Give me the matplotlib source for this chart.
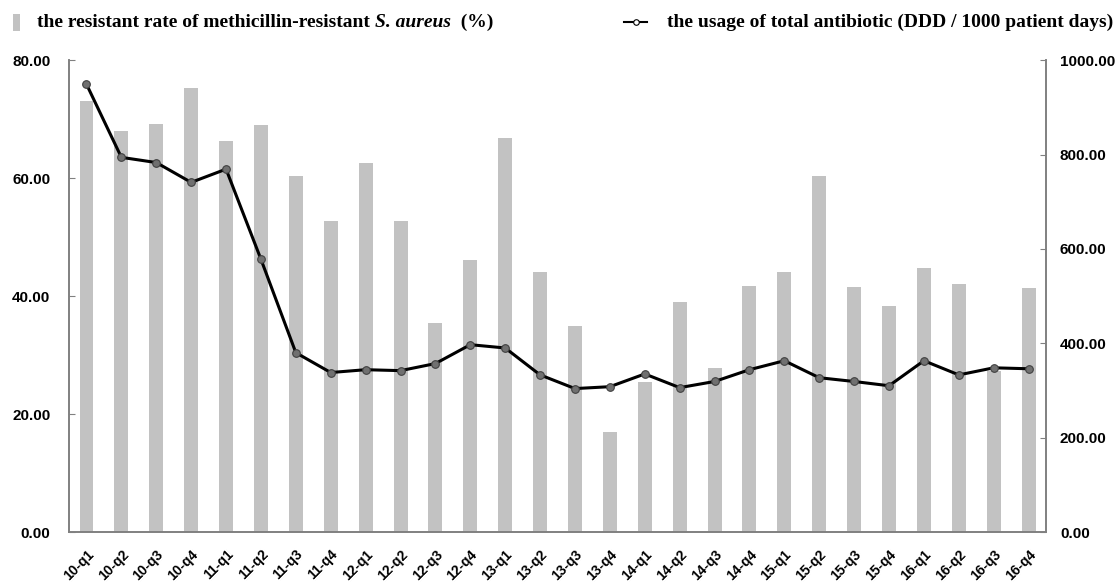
import numpy as np
import matplotlib
matplotlib.use('Agg')
import matplotlib.pyplot as plt
from matplotlib.lines import Line2D

quarters = ['10-q1', '10-q2', '10-q3', '10-q4', '11-q1', '11-q2', '11-q3', '11-q4',
            '12-q1', '12-q2', '12-q3', '12-q4', '13-q1', '13-q2', '13-q3', '13-q4',
            '14-q1', '14-q2', '14-q3', '14-q4', '15-q1', '15-q2', '15-q3', '15-q4',
            '16-q1', '16-q2', '16-q3', '16-q4']
mrsa_rate = [73.1, 68.0, 69.1, 75.3, 66.3, 69.0, 60.3, 52.8,
             62.6, 52.7, 35.4, 46.2, 66.8, 44.0, 34.9, 17.0,
             25.5, 39.0, 27.8, 41.7, 44.0, 60.3, 41.5, 38.3,
             44.7, 42.0, 27.3, 41.3]
antibiotic_usage = [949, 794, 783, 741, 769, 578, 380, 338,
                    344, 342, 357, 397, 390, 333, 304, 308,
                    335, 306, 319, 344, 363, 327, 319, 310,
                    363, 333, 348, 346]

plt.rcParams['font.family'] = ['Liberation Serif', 'DejaVu Serif']
plt.rcParams['font.weight'] = 'bold'
tickfont = dict(family=['Liberation Sans', 'DejaVu Sans'], weight='bold')

fig = plt.figure(figsize=(11.19, 5.84), dpi=100)
ax = fig.add_axes([0.0617, 0.089, 0.8731, 0.808])
ax2 = ax.twinx()

x = np.arange(len(quarters))
ax.bar(x, mrsa_rate, width=0.4, color='#c2c2c2', zorder=1)
ax2.plot(x, antibiotic_usage, color='black', lw=2.2, marker='o', ms=5.5,
         mfc='#707070', mec='#404040', mew=0.8, zorder=3)

ax.set_xlim(-0.5, len(quarters) - 0.5)
ax.set_ylim(0, 80)
ax2.set_ylim(0, 1000)
ax.set_yticks(np.arange(0, 81, 20))
ax.set_yticklabels(['%.2f' % v for v in np.arange(0, 81, 20)], fontsize=11, **tickfont)
ax2.set_yticks(np.arange(0, 1001, 200))
ax2.set_yticklabels(['%.2f' % v for v in np.arange(0, 1001, 200)], fontsize=11, **tickfont)
ax.set_xticks(x)
ax.set_xticklabels(quarters, rotation=45, ha='right', rotation_mode='anchor',
                   fontsize=10, **tickfont)
ax.tick_params(axis='x', length=0, pad=11)
ax.tick_params(axis='y', direction='in', length=4, color='#808080', pad=13.5)
ax2.tick_params(axis='y', direction='in', length=4, color='#808080', pad=10)

for a in (ax, ax2):
    a.spines['top'].set_visible(False)
    for s in ('left', 'right', 'bottom'):
        a.spines[s].set_color('#808080')
        a.spines[s].set_linewidth(1.2)

# legend, left item (text in pieces so the species name is italic)
fig.add_artist(plt.Rectangle((0.0116, 0.947), 0.0063, 0.029, transform=fig.transFigure,
                             facecolor='#c2c2c2', edgecolor='none'))
renderer = fig.canvas.get_renderer()
xpos = 0.0335
for txt, style in [('the resistant rate of methicillin-resistant ', 'normal'),
                   ('S. aureus', 'italic'), ('  (%)', 'normal')]:
    t = fig.text(xpos, 0.962, txt, fontsize=14, fontweight='bold', style=style, va='center')
    bb = t.get_window_extent(renderer)
    xpos += bb.width / fig.bbox.width

# legend, right item
fig.add_artist(Line2D([0.5576, 0.5782], [0.962, 0.962], transform=fig.transFigure,
                      color='black', lw=1.5))
fig.add_artist(Line2D([0.5684], [0.962], transform=fig.transFigure, color='black',
                      marker='o', ms=4, mfc='white', mec='black', mew=0.8))
fig.text(0.596, 0.962, 'the usage of total antibiotic (DDD / 1000 patient days)',
         fontsize=14, fontweight='bold', va='center')

fig.savefig('out.png', dpi=100)
